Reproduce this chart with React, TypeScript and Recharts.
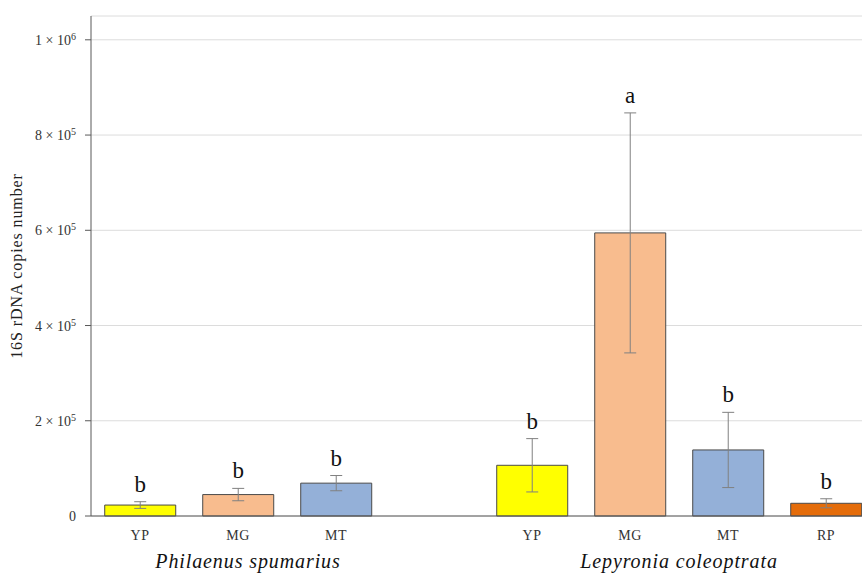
import React from "react";
import { BarChart, Bar, XAxis, YAxis, CartesianGrid, ErrorBar, Cell, LabelList } from "recharts";

const categories = ["YP", "MG", "MT", "", "YP", "MG", "MT", "RP"];
const values = [23000, 45000, 69000, null, 106500, 594500, 138700, 26700];
const errors = [7000, 13000, 16000, null, 56000, 252000, 79000, 9500];
const letters = ["b", "b", "b", "", "b", "a", "b", "b"];
const colors = ["#FFFF00", "#F8BC8E", "#94B0D8", "#FFFFFF", "#FFFF00", "#F8BC8E", "#94B0D8", "#E46C0A"];
const species = ["Philaenus spumarius", "Lepyronia coleoptrata"];
const yTicks = [0, 200000, 400000, 600000, 800000, 1000000];

const data = categories.map((c, i) => ({
  name: c,
  value: values[i],
  err: errors[i],
  letter: letters[i],
}));
const drawn = data.filter((d) => d.value != null);

const FONT = "'Liberation Serif', serif";

const YTick = (props: any) => {
  const { x, y, payload } = props;
  const v = payload.value as number;
  if (v === 0) {
    return (
      <text x={x - 7} y={y + 5} textAnchor="end" fontFamily={FONT} fontSize={14} fill="#333">
        0
      </text>
    );
  }
  const exp = Math.floor(Math.log10(v));
  const mant = Math.round(v / Math.pow(10, exp));
  return (
    <text x={x - 7} y={y + 5} textAnchor="end" fontFamily={FONT} fontSize={14} fill="#333">
      {`${mant} × 10`}
      <tspan fontSize={10} dy={-5}>{exp}</tspan>
    </text>
  );
};

const XTick = (props: any) => {
  const { x, y, payload, index } = props;
  return (
    <g>
      <text x={x} y={y + 16} textAnchor="middle" fontFamily={FONT} fontSize={14} letterSpacing={0.5} fill="#333">
        {payload.value}
      </text>
      {index === 1 && (
        <text x={x + 10} y={y + 44} textAnchor="middle" fontFamily={FONT} fontStyle="italic" fontSize={20} letterSpacing={0.9} fill="#111">
          {species[0]}
        </text>
      )}
      {index === 5 && (
        <text x={x + 49} y={y + 44} textAnchor="middle" fontFamily={FONT} fontStyle="italic" fontSize={20} letterSpacing={0.9} fill="#111">
          {species[1]}
        </text>
      )}
    </g>
  );
};

const LetterLabel = (props: any) => {
  const { x, y, width, height, index } = props;
  const d = drawn[index];
  if (!d || d.value == null || !d.letter) return null;
  const pxPerUnit = height / (d.value as number);
  const topErr = y - (d.err as number) * pxPerUnit;
  return (
    <text x={x + width / 2} y={topErr - 10} textAnchor="middle" fontFamily={FONT} fontSize={23} fill="#111">
      {d.letter}
    </text>
  );
};

export default function App() {
  return (
    <div style={{ position: "absolute", left: 0, top: 0, width: 862, height: 574, overflow: "hidden", background: "#fff" }}>
      <BarChart
        width={880}
        height={574}
        data={data}
        margin={{ top: 16, right: 5, bottom: 8, left: 0 }}
        barCategoryGap="14%"
      >
        <CartesianGrid vertical={false} stroke="#dcdcdc" />
        <XAxis
          dataKey="name"
          tick={<XTick />}
          tickLine={false}
          axisLine={{ stroke: "#595959" }}
          height={50}
          interval={0}
        />
        <YAxis
          domain={[0, 1050000]}
          ticks={yTicks}
          tick={<YTick />}
          tickLine={{ stroke: "#595959" }}
          tickSize={6}
          axisLine={{ stroke: "#595959" }}
          width={91}
          label={(p: any) => {
            const vb = p.viewBox;
            const cx = 22;
            const cy = vb.y + vb.height / 2;
            return (
              <text
                x={cx}
                y={cy}
                transform={`rotate(-90, ${cx}, ${cy})`}
                textAnchor="middle"
                fontFamily={FONT}
                fontSize={16}
                letterSpacing={0.9}
                fill="#222"
              >
                16S rDNA copies number
              </text>
            );
          }}
        />
        <Bar dataKey="value" stroke="#4a4a4a" strokeWidth={1} isAnimationActive={false}>
          {data.map((d, i) => (
            <Cell key={i} fill={colors[i]} />
          ))}
          <ErrorBar dataKey="err" width={6} stroke="#808080" strokeWidth={1} direction="y" />
          <LabelList dataKey="letter" content={<LetterLabel />} />
        </Bar>
      </BarChart>
    </div>
  );
}
